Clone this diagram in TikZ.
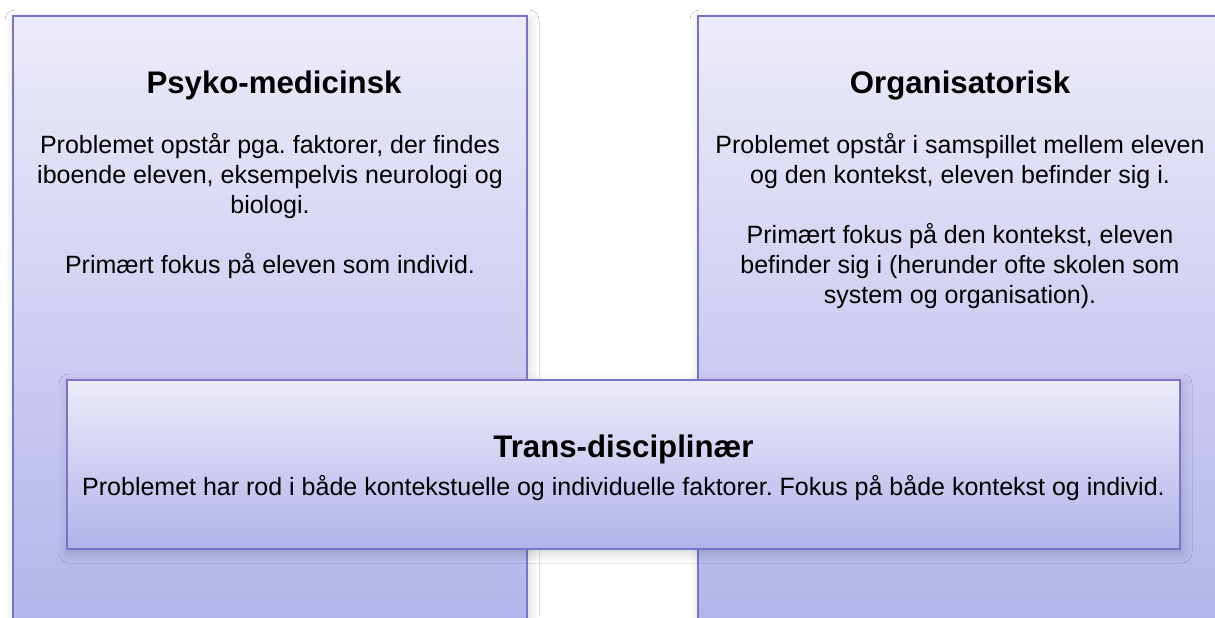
\documentclass[tikz,border=0pt]{standalone}
\usepackage{fontspec}
\setmainfont{Liberation Sans}
\usetikzlibrary{positioning,shadows.blur}

\definecolor{panelTop}{RGB}{236,236,250}
\definecolor{panelBot}{RGB}{178,178,234}
\definecolor{panelLine}{RGB}{118,118,200}

\begin{document}
\begin{tikzpicture}[%
    x=0.5pt, y=-0.5pt,          % one unit is one pixel of the screenshot
    ]
% -------------------------------------------------
% Panel and text styles
\tikzset{
  panel/.style={draw=panelLine, line width=1pt, rectangle, anchor=north,
    top color=panelTop, bottom color=panelBot, inner sep=0pt,
    blur shadow={shadow xshift=1pt, shadow yshift=-2pt,
      shadow blur radius=5pt, shadow opacity=18}},
  head/.style={anchor=base, font=\fontsize{15.6}{18}\selectfont\bfseries},
  % first line gets a fixed height, so north sits 11pt above its baseline
  body/.style={anchor=north, align=center, inner sep=0pt,
    font=\fontsize{12.5}{15}\selectfont\frenchspacing,
    execute at begin node={\rule{0pt}{11pt}}},
}
\useasboundingbox (0,0) rectangle (1215,617);
\clip (0,0) rectangle (1215,617);
\fill [white] (0,0) rectangle (1215,617);
% -------------------------------------------------
% The two tall panels
\node [panel, minimum width=257pt, minimum height=312.5pt] (psyko) at (270,15) {};
\node [panel, minimum width=262pt, minimum height=312.5pt] (org) at (960,15) {};

\node [head] (psykoT) at ([xshift=2pt, yshift=-39pt]psyko.north) {Psyko-medicinsk};
\node [body] (psykoB) at ([yshift=-20pt]psyko.north |- psykoT.base)
  {Problemet opstår pga. faktorer, der findes\\
   iboende eleven, eksempelvis neurologi og\\
   biologi.\\[15pt]
   Primært fokus på eleven som individ.};

\node [head] (orgT) at ([yshift=-39pt]org.north) {Organisatorisk};
\node [body] (orgB) at ([yshift=-20pt]orgT.base)
  {Problemet opstår i samspillet mellem eleven\\
   og den kontekst, eleven befinder sig i.\\[15pt]
   Primært fokus på den kontekst, eleven\\
   befinder sig i (herunder ofte skolen som\\
   system og organisation).};

% -------------------------------------------------
% The wide panel laid across both
\node [panel, minimum width=556.5pt, minimum height=84.5pt] (trans) at (623.5,379) {};
\node [head] (transT) at ([yshift=-39pt]trans.north) {Trans-disciplinær};
\node [body] (transB) at ([yshift=-8pt]transT.base)
  {Problemet har rod i både kontekstuelle og individuelle faktorer. Fokus på både kontekst og individ.};
% -------------------------------------------------
\end{tikzpicture}
\end{document}
